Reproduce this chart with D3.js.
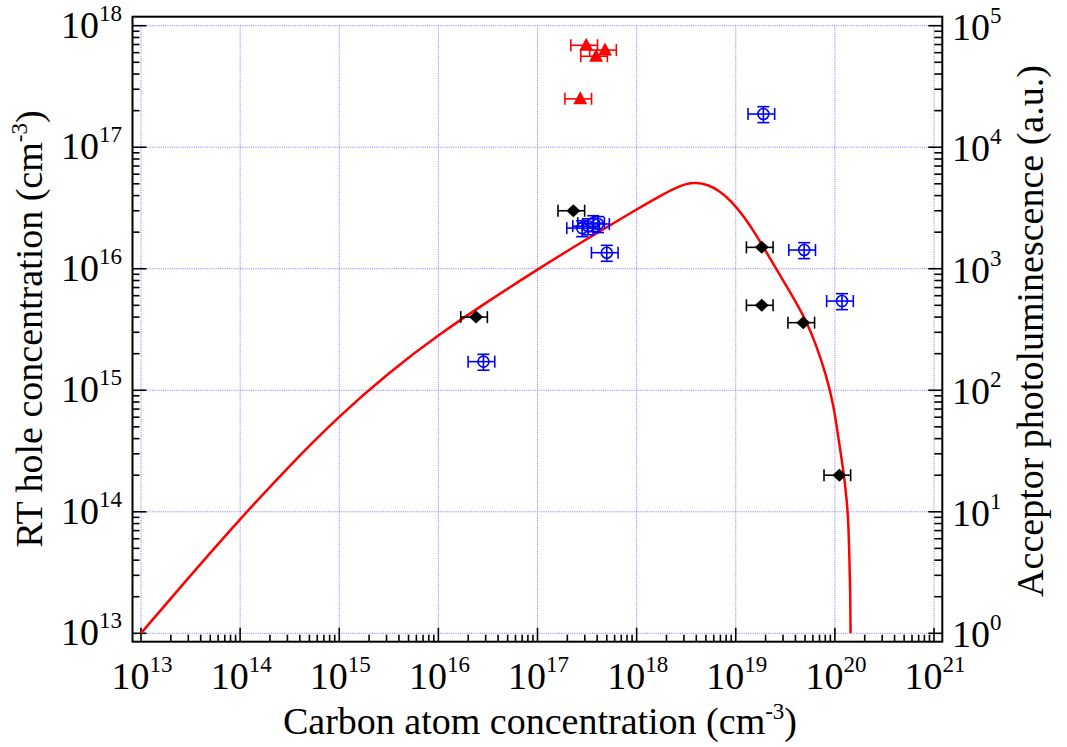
<!DOCTYPE html>
<html>
<head>
<meta charset="utf-8">
<script src="https://cdn.jsdelivr.net/npm/d3@7"></script>
<style>
  html, body { margin: 0; padding: 0; background: #fff; }
  svg { display: block; font-family: "Liberation Serif", "Times New Roman", serif; }
</style>
</head>
<body>
<script>
// ---- data ----
// decade exponents used for tick labels
const xTickExponents = [13, 14, 15, 16, 17, 18, 19, 20, 21];
const yLeftExponents = [13, 14, 15, 16, 17, 18];
const yRightExponents = [0, 1, 2, 3, 4, 5];

// model curve: hole concentration vs carbon concentration
const curveCarbon = [1.0e13, 3.16e13, 1.0e14, 3.16e14, 1.0e15, 3.16e15, 1.0e16, 3.16e16,
  1.0e17, 3.16e17, 1.0e18, 1.75e18, 2.45e18, 3.09e18, 3.96e18, 5.23e18, 6.91e18,
  9.13e18, 1.21e19, 1.60e19, 2.01e19, 2.66e19, 3.68e19, 5.05e19, 6.45e19, 8.13e19,
  9.79e19, 1.09e20, 1.22e20, 1.32e20, 1.37e20, 1.40e20, 1.43e20, 1.44e20];
const curveHoles = [1.0e13, 3.00e13, 8.74e13, 2.41e14, 6.16e14, 1.40e15, 2.86e15, 5.39e15,
  9.89e15, 1.76e16, 3.08e16, 4.00e16, 4.62e16, 4.98e16, 5.14e16, 4.93e16, 4.36e16,
  3.57e16, 2.69e16, 1.91e16, 1.39e16, 9.48e15, 6.07e15, 3.85e15, 2.39e15, 1.35e15,
  7.37e14, 3.91e14, 2.20e14, 1.25e14, 8.07e13, 4.26e13, 2.27e13, 1.0e13];

// measured RT hole concentration (black diamonds)
const holeCarbon = [2.4e16, 2.3e17, 1.83e19, 1.83e19, 4.8e19, 1.11e20];
const holeConc   = [4.0e15, 3.0e16, 1.5e16, 5.0e15, 3.6e15, 2.0e14];

// measured RT hole concentration, second sample set (red triangles)
const hole2Carbon = [3.1e17, 4.8e17, 3.9e17, 2.7e17];
const hole2Conc   = [6.9e17, 6.3e17, 5.6e17, 2.5e17];

// acceptor photoluminescence intensity (blue circles, right axis)
const plCarbon    = [2.85e16, 2.82e17, 3.24e17, 3.64e17, 4.08e17, 5.0e17, 1.9e19, 4.9e19, 1.18e20];
const plIntensity = [172, 2160, 2240, 2375, 2335, 1355, 18750, 1425, 542];

// relative uncertainties
const carbonRelErr = 0.30;
const plRelErr = 0.15;

// ---- layout ----
const W = 1067, H = 747;
const frame = { left: 132.5, top: 16.7, right: 942.3, bottom: 641.7 };
const plotX = [141, 934];
const plotY = [633.3, 25.7];

const x = d3.scaleLog().domain([1e13, 1e21]).range(plotX);
const yL = d3.scaleLog().domain([1e13, 1e18]).range(plotY);
const yR = d3.scaleLog().domain([1, 1e5]).range(plotY);

const svg = d3.select("body").append("svg").attr("width", W).attr("height", H);
svg.append("rect").attr("width", W).attr("height", H).attr("fill", "#fff");

const isMajor = v => Math.abs(Math.log10(v) - Math.round(Math.log10(v))) < 1e-6;

// ---- grid ----
const grid = svg.append("g").attr("stroke", "#7b7bff").attr("stroke-width", 1)
  .attr("stroke-dasharray", "1,1.2").attr("fill", "none");
xTickExponents.forEach(e => {
  grid.append("line").attr("x1", x(10 ** e)).attr("x2", x(10 ** e))
    .attr("y1", plotY[0]).attr("y2", plotY[1]);
});
yLeftExponents.forEach(e => {
  grid.append("line").attr("y1", yL(10 ** e)).attr("y2", yL(10 ** e))
    .attr("x1", plotX[0]).attr("x2", plotX[1]);
});

// ---- ticks (inward, on the frame) ----
const ticks = svg.append("g").attr("stroke", "#000").attr("stroke-width", 1.6);
x.ticks().forEach(v => {
  const len = isMajor(v) ? 14 : 7;
  ticks.append("line").attr("x1", x(v)).attr("x2", x(v))
    .attr("y1", frame.bottom).attr("y2", frame.bottom - len);
});
yL.ticks().forEach(v => {
  const len = isMajor(v) ? 14 : 7;
  ticks.append("line").attr("y1", yL(v)).attr("y2", yL(v))
    .attr("x1", frame.left).attr("x2", frame.left + len);
});
yR.ticks().forEach(v => {
  const len = isMajor(v) ? 14 : 8;
  ticks.append("line").attr("y1", yR(v)).attr("y2", yR(v))
    .attr("x1", frame.right).attr("x2", frame.right - len);
});

// ---- frame ----
svg.append("rect")
  .attr("x", frame.left).attr("y", frame.top)
  .attr("width", frame.right - frame.left).attr("height", frame.bottom - frame.top)
  .attr("fill", "none").attr("stroke", "#000").attr("stroke-width", 2);

// ---- tick labels ----
function powerLabel(g, px, py, exp, anchor) {
  const t = g.append("text").attr("x", px).attr("y", py)
    .attr("text-anchor", anchor).attr("font-size", 38).attr("fill", "#000");
  t.append("tspan").text("10");
  t.append("tspan").attr("dy", -17).attr("font-size", 23).text(exp);
}
const labels = svg.append("g");
xTickExponents.forEach(e => powerLabel(labels, x(10 ** e) + 1, 689, e, "middle"));
yLeftExponents.forEach(e => powerLabel(labels, 122, yL(10 ** e) + 12, e, "end"));
yRightExponents.forEach(e => powerLabel(labels, 952, yR(10 ** e) + 14, e, "start"));

// ---- axis titles ----
function titleWithUnit(g, main, sup, tail) {
  const t = g.append("text").attr("text-anchor", "middle").attr("font-size", 38).attr("fill", "#000");
  t.append("tspan").text(main);
  if (sup) {
    t.append("tspan").attr("dy", -15).attr("font-size", 23).text(sup);
    t.append("tspan").attr("dy", 15).text(tail);
  }
  return t;
}
titleWithUnit(svg.append("g").attr("transform", "translate(540,734)"),
  "Carbon atom concentration (cm", "-3", ")");
titleWithUnit(svg.append("g").attr("transform", "translate(42,329) rotate(-90)"),
  "RT hole concentration (cm", "-3", ")");
titleWithUnit(svg.append("g").attr("transform", "translate(1043,331) rotate(-90)"),
  "Acceptor photoluminescence (a.u.)", null, null);

// ---- model curve ----
const curvePts = curveCarbon.map((c, i) => [c, curveHoles[i]]);
svg.append("path").datum(curvePts)
  .attr("fill", "none").attr("stroke", "#ff0000").attr("stroke-width", 2.5)
  .attr("stroke-linejoin", "round")
  .attr("d", d3.line().x(d => x(d[0])).y(d => yL(d[1])).curve(d3.curveBasis));

// ---- error bars ----
const cap = 6;
function xErrorBars(g, xs, ys, yScale, color) {
  xs.forEach((c, i) => {
    const cy = yScale(ys[i]);
    const x0 = x(c * (1 - carbonRelErr)), x1 = x(c * (1 + carbonRelErr));
    const eg = g.append("g").attr("stroke", color).attr("stroke-width", 1.6);
    eg.append("line").attr("x1", x0).attr("x2", x1).attr("y1", cy).attr("y2", cy);
    eg.append("line").attr("x1", x0).attr("x2", x0).attr("y1", cy - cap).attr("y2", cy + cap);
    eg.append("line").attr("x1", x1).attr("x2", x1).attr("y1", cy - cap).attr("y2", cy + cap);
  });
}
function yErrorBars(g, xs, ys, yScale, color) {
  xs.forEach((c, i) => {
    const cx = x(c);
    const y0 = yScale(ys[i] * (1 - plRelErr)), y1 = yScale(ys[i] * (1 + plRelErr));
    const eg = g.append("g").attr("stroke", color).attr("stroke-width", 1.6);
    eg.append("line").attr("x1", cx).attr("x2", cx).attr("y1", y0).attr("y2", y1);
    eg.append("line").attr("x1", cx - cap).attr("x2", cx + cap).attr("y1", y0).attr("y2", y0);
    eg.append("line").attr("x1", cx - cap).attr("x2", cx + cap).attr("y1", y1).attr("y2", y1);
  });
}

// blue circles: photoluminescence
const plG = svg.append("g");
xErrorBars(plG, plCarbon, plIntensity, yR, "#0000ff");
yErrorBars(plG, plCarbon, plIntensity, yR, "#0000ff");
plG.selectAll("circle").data(plCarbon).join("circle")
  .attr("cx", d => x(d)).attr("cy", (d, i) => yR(plIntensity[i])).attr("r", 5.5)
  .attr("fill", "none").attr("stroke", "#0000ff").attr("stroke-width", 1.6);

// black diamonds
const holeG = svg.append("g");
xErrorBars(holeG, holeCarbon, holeConc, yL, "#000");
holeG.selectAll("path.mark").data(holeCarbon).join("path").attr("class", "mark")
  .attr("transform", (d, i) => `translate(${x(d)},${yL(holeConc[i])})`)
  .attr("d", "M0,-6.5L7,0L0,6.5L-7,0Z").attr("fill", "#000");

// red triangles
const hole2G = svg.append("g");
xErrorBars(hole2G, hole2Carbon, hole2Conc, yL, "#ff0000");
hole2G.selectAll("path.mark").data(hole2Carbon).join("path").attr("class", "mark")
  .attr("transform", (d, i) => `translate(${x(d)},${yL(hole2Conc[i])})`)
  .attr("d", "M0,-7.5L7,5.5L-7,5.5Z").attr("fill", "#ff0000");
</script>
</body>
</html>
